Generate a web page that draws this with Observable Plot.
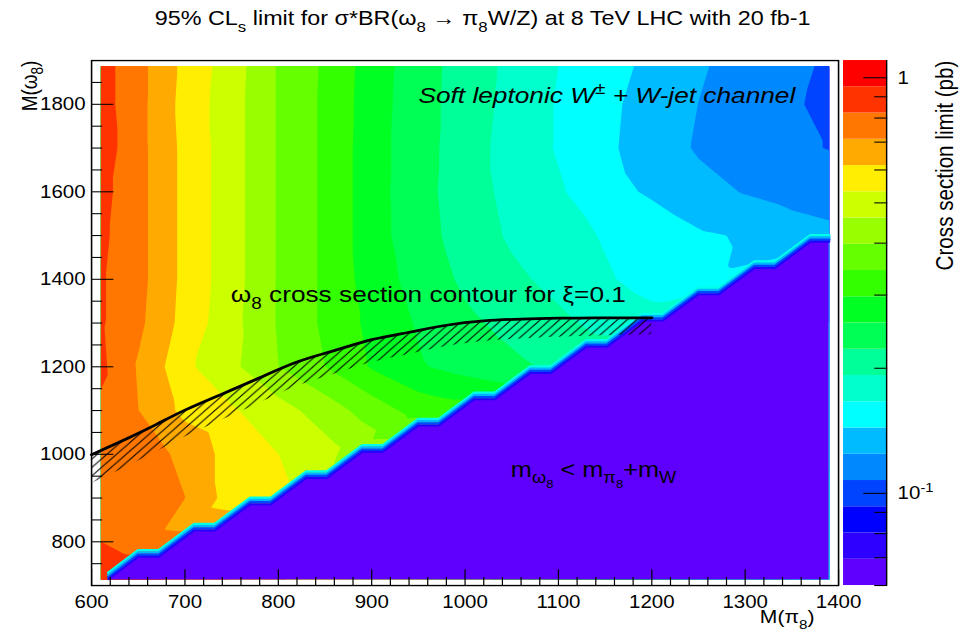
<!DOCTYPE html>
<html>
<head>
<meta charset="utf-8">
<script src="https://cdn.jsdelivr.net/npm/d3@7"></script>
<script src="https://cdn.jsdelivr.net/npm/@observablehq/plot@0.6"></script>
<style>
  html, body { margin: 0; padding: 0; background: #ffffff; overflow: hidden; }
  #stage { position: absolute; left: 0; top: 0; width: 800px; height: 600px;
           transform: scale(1.205, 1.05333); transform-origin: 0 0; }
  #stage > svg { position: absolute; left: 0; top: 0; }
</style>
</head>
<body>
<div id="stage"></div>
<script>
// ---------------- data ----------------
// sample grid: M(pi8) columns, M(omega8) rows; cross-section limit in pb (null = kinematically excluded)
const mPi = [610, 650, 700, 750, 800, 850, 900, 950, 1000, 1050, 1100, 1150, 1200, 1250, 1300, 1350, 1390];
const mOmega = [1887, 1800, 1700, 1600, 1500, 1400, 1300, 1200, 1100, 1000, 900, 800, 720];

const limit1887 = [0.872, 0.743, 0.589, 0.491, 0.392, 0.336, 0.276, 0.237, 0.208, 0.185, 0.166, 0.151, 0.139, 0.126, 0.118, 0.111, 0.105];
const limit1800 = [0.872, 0.743, 0.581, 0.487, 0.392, 0.334, 0.274, 0.236, 0.207, 0.183, 0.164, 0.148, 0.136, 0.124, 0.116, 0.109, 0.104];
const limit1700 = [0.885, 0.743, 0.589, 0.487, 0.392, 0.334, 0.272, 0.236, 0.205, 0.181, 0.164, 0.147, 0.135, 0.122, 0.114, 0.109, 0.107];
const limit1600 = [0.860, 0.743, 0.589, 0.487, 0.392, 0.334, 0.272, 0.234, 0.205, 0.184, 0.169, 0.150, 0.141, 0.131, 0.123, 0.117, 0.113];
const limit1500 = [0.847, 0.743, 0.589, 0.487, 0.392, 0.334, 0.272, 0.236, 0.208, 0.188, 0.176, 0.164, 0.155, 0.146, 0.142, 0.134, 0.130];
const limit1400 = [0.835, 0.743, 0.589, 0.487, 0.392, 0.334, 0.276, 0.243, 0.216, 0.198, 0.184, 0.169, 0.157, 0.148, null, null, null];
const limit1300 = [0.835, 0.733, 0.581, 0.481, 0.392, 0.334, 0.285, 0.253, 0.229, 0.213, 0.198, 0.184, null, null, null, null, null];
const limit1200 = [0.847, 0.701, 0.548, 0.474, 0.398, 0.344, 0.293, 0.261, 0.243, 0.229, 0.216, null, null, null, null, null, null];
const limit1100 = [0.799, 0.712, 0.589, 0.540, 0.487, 0.428, 0.370, 0.324, null, null, null, null, null, null, null, null, null];
const limit1000 = [0.765, 0.754, 0.691, 0.572, 0.532, 0.487, null, null, null, null, null, null, null, null, null, null, null];
const limit900  = [0.754, 0.754, 0.712, 0.572, 0.548, null, null, null, null, null, null, null, null, null, null, null, null];
const limit800  = [0.823, 0.765, null, null, null, null, null, null, null, null, null, null, null, null, null, null, null];
const limit720  = [0.925, null, null, null, null, null, null, null, null, null, null, null, null, null, null, null, null];
const limitRows = [limit1887, limit1800, limit1700, limit1600, limit1500, limit1400, limit1300,
                   limit1200, limit1100, limit1000, limit900, limit800, limit720];

// kinematic edge m(omega8) = m(pi8) + m(W) as drawn (staircase)
const boundaryX = [618, 650, 672, 710, 732, 770, 792, 830, 852, 890, 912, 950, 972, 1010, 1032, 1070, 1092, 1130, 1152, 1190, 1212, 1250, 1272, 1310, 1332, 1370, 1390];
const boundaryY = [712.5, 764, 764, 824, 824, 884, 884, 944, 944, 1004, 1004, 1064, 1064, 1124, 1124, 1184, 1184, 1244, 1244, 1304, 1304, 1364, 1364, 1424, 1424, 1484, 1484];

// omega8 cross-section contour for xi = 0.1
const xiX = [600, 640, 670, 700, 740, 780, 820, 860, 900, 940, 980, 1020, 1060, 1100, 1140, 1200];
const xiY = [999, 1038, 1069, 1101, 1138, 1175, 1211, 1237, 1262, 1279, 1295, 1305, 1309, 1311, 1312, 1312];

// colour palette (bottom -> top of the colour bar) and z range
const palette = ["#5f00ff", "#2d00ff", "#0000ff", "#0044ff", "#0088ff", "#00bbff", "#00ffff", "#00ffcc", "#00ff99", "#00ff55",
                 "#00ff22", "#33ff00", "#66ff00", "#99ff00", "#ccff00", "#ffee00", "#ffaa00", "#ff7700", "#ff3300", "#ff0000"];
const zMin = 0.06, zMax = 1.1, nLevels = 20;

// ticks
const xMajor = [600, 700, 800, 900, 1000, 1100, 1200, 1300, 1400];
const xMinor = d3.range(620, 1400, 20).filter(v => v % 100 !== 0);
const yMajor = [800, 1000, 1200, 1400, 1600, 1800];
const yMinor = [750, 850, 900, 950, 1050, 1100, 1150, 1250, 1300, 1350, 1450, 1500, 1550, 1650, 1700, 1750, 1850];
const zMajor = [0.1, 1];
const zMajorLabels = ["10^{-1}", "1"];
const zMinor = [0.06, 0.07, 0.08, 0.09, 0.2, 0.3, 0.4, 0.5, 0.6, 0.7, 0.8, 0.9];

// texts
const titleText = "95% CL_{s} limit for σ*BR(ω_{8} → π_{8}W/Z) at 8 TeV LHC with 20 fb-1";
const xTitle = "M(π_{8})";
const yTitle = "M(ω_{8})";
const zTitle = "Cross section limit (pb)";
const channelText = "Soft leptonic W^{±} + W-jet channel";
const xiText = "ω_{8} cross section contour for ξ=0.1";
const kinText = "m_{ω_{8}} < m_{π_{8}}+m_{W}";

// ---------------- derived tables ----------------
const levels = d3.range(nLevels + 1).map(i => zMin * Math.pow(zMax / zMin, i / nLevels));
const thresholds = [0, ...levels.slice(1, nLevels)];
const samples = [];
limitRows.forEach((row, r) => row.forEach((v, j) => { if (v != null) samples.push({x: mPi[j], y: mOmega[r], v}); }));
const boundary = boundaryX.map((x, i) => ({x, y: boundaryY[i]}));
const xiCurve = xiX.map((x, i) => ({x, y: xiY[i]}));
const bands = palette.map((c, i) => ({lo: levels[i], hi: levels[i + 1], c}));
const hatchDepth = x => 66 - (x - 600) * 27 / 600;

const FONT = "'Liberation Sans', Arial, Helvetica, sans-serif";
const M = {marginLeft: 75.5, marginRight: 104.6, marginTop: 57, marginBottom: 44.6};

const main = Plot.plot({
  width: 800, height: 600, ...M,
  x: {domain: [600, 1400], axis: null, label: null},
  y: {domain: [700, 1900], axis: null, label: null},
  color: {type: "threshold", domain: levels.slice(1, nLevels), range: palette},
  style: {fontFamily: FONT, fontSize: "17px", background: "transparent", color: "#000", overflow: "visible"},
  marks: [
    Plot.contour(samples, {x: "x", y: "y", fill: "v", thresholds, interpolate: "barycentric",
      pixelSize: 1, x1: 610, x2: 1390, y1: 712.5, y2: 1887.5, stroke: "none"}),
    Plot.areaY(boundary, {x: "x", y1: 712.5, y2: "y", fill: palette[0], curve: "linear"}),
    Plot.line(boundary, {x: "x", y: "y", stroke: "#00ffe8", strokeWidth: 2.4, dy: -7}),
    Plot.line(boundary, {x: "x", y: "y", stroke: "#00b4ff", strokeWidth: 2.4, dy: -4.8}),
    Plot.line(boundary, {x: "x", y: "y", stroke: "#0048ff", strokeWidth: 2.4, dy: -2.6}),
    Plot.line(boundary, {x: "x", y: "y", stroke: "#2400ff", strokeWidth: 1.8, dy: -0.8}),
    Plot.areaY(xiCurve, {x: "x", y1: d => d.y - hatchDepth(d.x), y2: "y", fill: "url(#xiHatch)", curve: "natural", clip: true}),
    Plot.line(xiCurve, {x: "x", y: "y", stroke: "#000", strokeWidth: 2.6, curve: "natural"}),
    Plot.text([channelText], {x: 950, y: 1802, text: d => d, textAnchor: "start", lineAnchor: "bottom", fontSize: 21.8, fontStyle: "italic"}),
    Plot.text([xiText], {x: 749, y: 1347.5, text: d => d, textAnchor: "start", lineAnchor: "bottom", fontSize: 21.8}),
    Plot.text([kinText], {x: 1049, y: 949, text: d => d, textAnchor: "start", lineAnchor: "bottom", fontSize: 21}),
    Plot.text([titleText], {frameAnchor: "top", text: d => d, dx: 14.55, dy: -33.7, lineAnchor: "bottom", fontSize: 19.4}),
    Plot.text([xTitle], {frameAnchor: "bottom-right", text: d => d, textAnchor: "end", lineAnchor: "bottom", dx: -20, dy: 35.6, fontSize: 17.5}),
    Plot.text([yTitle], {frameAnchor: "top-left", text: d => d, rotate: -90, textAnchor: "end", dx: -58, fontSize: 18}),
    Plot.axisX(xMinor, {tickSize: -7.5, tickFormat: () => null, label: null}),
    Plot.axisX(xMajor, {tickSize: -15, tickPadding: 24.5, fontSize: 17, tickFormat: d => String(d), label: null}),
    Plot.axisY(yMinor, {tickSize: -9.3, tickFormat: () => null, label: null}),
    Plot.axisY(yMajor, {tickSize: -18.6, tickPadding: 23.6, fontSize: 17, tickFormat: d => String(d), label: null}),
    Plot.frame({stroke: "#000", strokeWidth: 1.3})
  ]
});

const cbar = Plot.plot({
  width: 800, height: 600, marginLeft: 699.6, marginRight: 64.7, marginTop: 57, marginBottom: 44.6,
  x: {domain: [0, 1], axis: null, label: null},
  y: {type: "log", domain: [zMin, zMax], axis: null, label: null},
  color: {type: "identity"},
  style: {fontFamily: FONT, fontSize: "17px", background: "transparent", color: "#000", overflow: "visible"},
  marks: [
    Plot.rect(bands, {x1: 0, x2: 1, y1: "lo", y2: "hi", fill: "c"}),
    Plot.ruleX([1], {stroke: "#000", strokeWidth: 1.2}),
    Plot.axisY(zMinor, {anchor: "right", tickSize: -10.8, tickFormat: () => null, label: null}),
    Plot.axisY(zMajor, {anchor: "right", tickSize: -19.9, tickPadding: 29, fontSize: 17,
      tickFormat: d => zMajorLabels[zMajor.indexOf(d)], label: null}),
    Plot.text([zTitle], {frameAnchor: "top-right", text: d => d, rotate: -90, textAnchor: "end", dx: 41.4, fontSize: 19.6})
  ]
});

const stage = document.getElementById("stage");
stage.appendChild(main);
stage.appendChild(cbar);

// hatch pattern for the xi contour
const defs = d3.select(main).insert("defs", ":first-child");
const pat = defs.append("pattern").attr("id", "xiHatch").attr("patternUnits", "userSpaceOnUse")
  .attr("width", 8).attr("height", 8);
pat.append("path").attr("d", "M-2,2L2,-2M0,8L8,0M6,10L10,6").attr("stroke", "#000").attr("stroke-width", 0.9).attr("fill", "none");

// ROOT-like sub/superscripts: _{..} and ^{..}
const NS = "http://www.w3.org/2000/svg";
function parseRich(s) {
  let i = 0;
  function seq(inBrace) {
    const nodes = []; let buf = "";
    while (i < s.length) {
      const c = s[i];
      if (c === "}" && inBrace) { i++; break; }
      if ((c === "_" || c === "^") && s[i + 1] === "{") {
        if (buf) { nodes.push({t: buf}); buf = ""; }
        i += 2;
        nodes.push({type: c, kids: seq(true)});
        continue;
      }
      buf += c; i++;
    }
    if (buf) nodes.push({t: buf});
    return nodes;
  }
  return seq(false);
}
function renderRich(parent, nodes, fs) {
  for (const n of nodes) {
    const t = document.createElementNS(NS, "tspan");
    if (n.t !== undefined) { t.textContent = n.t; parent.appendChild(t); continue; }
    const sub = fs * 0.72;
    t.setAttribute("font-size", sub.toFixed(2));
    t.setAttribute("baseline-shift", (n.type === "_" ? -0.3 * fs : 0.42 * fs).toFixed(2));
    parent.appendChild(t);
    renderRich(t, n.kids, sub);
  }
}
stage.querySelectorAll("text").forEach(el => {
  const s = el.textContent;
  if (!/[_^]\{/.test(s)) return;
  const fs = parseFloat(getComputedStyle(el).fontSize) || 17;
  while (el.firstChild) el.removeChild(el.firstChild);
  renderRich(el, parseRich(s), fs);
});
</script>
</body>
</html>
